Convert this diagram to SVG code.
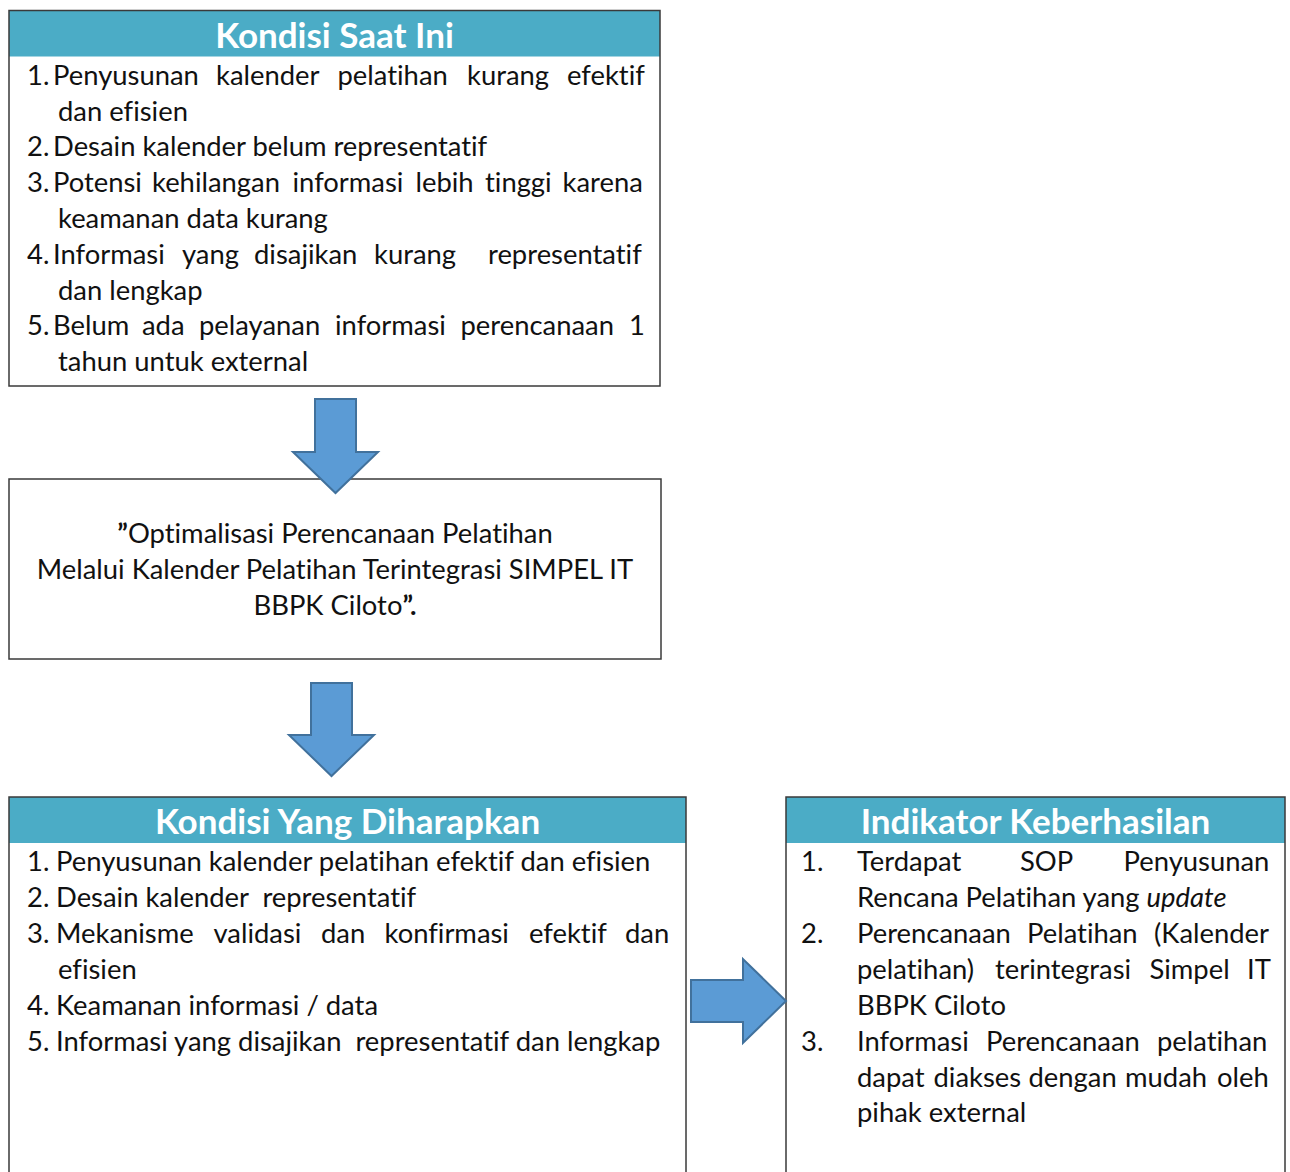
<svg xmlns="http://www.w3.org/2000/svg" width="1290" height="1172" viewBox="0 0 1290 1172">
<style>
.bg{fill:#ffffff}
.hdr{fill:#4BACC6}
.frame{fill:none;stroke:#3a3a3a;stroke-width:1.5}
.t{font-family:Lato,'Open Sans',sans-serif;font-size:27.4px;fill:#111111;font-variant-ligatures:none}
.c{text-anchor:middle}
.ttl{font-family:Lato,'Open Sans',sans-serif;font-weight:bold;font-size:35px;fill:#ffffff;text-anchor:middle}
.arr{fill:#5B9BD5;stroke:#41719C;stroke-width:2;stroke-linejoin:miter}
</style>
<rect class="bg" x="0" y="0" width="1290" height="1172"/>

<g id="kondisi-saat-ini">
  <rect class="hdr" x="9" y="10.5" width="651" height="46"/>
  <rect class="frame" x="9" y="10.5" width="651" height="375.5"/>
  <text class="ttl" x="334.5" y="47.5">Kondisi Saat Ini</text>
  <text class="t" y="85"><tspan x="27">1.</tspan><tspan x="53">Penyusunan</tspan><tspan x="216">kalender</tspan><tspan x="337.5">pelatihan</tspan><tspan x="467">kurang</tspan><tspan x="567">efektif</tspan></text>
  <text class="t" x="58" y="121">dan efisien</text>
  <text class="t" y="156"><tspan x="27">2.</tspan><tspan x="53">Desain kalender belum representatif</tspan></text>
  <text class="t" y="192"><tspan x="27">3.</tspan><tspan x="53">Potensi</tspan><tspan x="152">kehilangan</tspan><tspan x="292.5">informasi</tspan><tspan x="415.5">lebih</tspan><tspan x="485">tinggi</tspan><tspan x="562.5">karena</tspan></text>
  <text class="t" x="58" y="228">keamanan data kurang</text>
  <text class="t" y="264"><tspan x="27">4.</tspan><tspan x="53">Informasi</tspan><tspan x="182">yang</tspan><tspan x="254">disajikan</tspan><tspan x="374">kurang</tspan><tspan x="488">representatif</tspan></text>
  <text class="t" x="58" y="300">dan lengkap</text>
  <text class="t" y="335"><tspan x="27">5.</tspan><tspan x="53">Belum</tspan><tspan x="142">ada</tspan><tspan x="199">pelayanan</tspan><tspan x="335">informasi</tspan><tspan x="460.5">perencanaan</tspan><tspan x="629">1</tspan></text>
  <text class="t" x="58" y="371">tahun untuk external</text>
</g>

<g id="judul">
  <rect class="frame" x="9" y="479" width="652" height="180"/>
  <text class="t c" x="335" y="543"><tspan font-weight="bold">”</tspan>Optimalisasi Perencanaan Pelatihan</text>
  <text class="t c" x="335" y="579">Melalui Kalender Pelatihan Terintegrasi SIMPEL IT</text>
  <text class="t c" x="335" y="615">BBPK Ciloto<tspan font-weight="bold">”.</tspan></text>
</g>

<g id="kondisi-yang-diharapkan">
  <rect class="hdr" x="9" y="797" width="677" height="46"/>
  <rect class="frame" x="9" y="797" width="677" height="390"/>
  <text class="ttl" x="347.5" y="834">Kondisi Yang Diharapkan</text>
  <text class="t" y="871"><tspan x="27">1.</tspan><tspan x="56">Penyusunan kalender pelatihan efektif dan efisien</tspan></text>
  <text class="t" y="907" xml:space="preserve"><tspan x="27">2.</tspan><tspan x="56">Desain kalender  representatif</tspan></text>
  <text class="t" y="943"><tspan x="27">3.</tspan><tspan x="56">Mekanisme</tspan><tspan x="213.5">validasi</tspan><tspan x="321">dan</tspan><tspan x="384.5">konfirmasi</tspan><tspan x="529">efektif</tspan><tspan x="625">dan</tspan></text>
  <text class="t" x="58" y="979">efisien</text>
  <text class="t" y="1015"><tspan x="27">4.</tspan><tspan x="56">Keamanan informasi / data</tspan></text>
  <text class="t" y="1051" xml:space="preserve"><tspan x="27">5.</tspan><tspan x="56">Informasi yang disajikan  representatif dan lengkap</tspan></text>
</g>

<g id="indikator-keberhasilan">
  <rect class="hdr" x="786" y="797" width="499" height="46"/>
  <rect class="frame" x="786" y="797" width="499" height="390"/>
  <text class="ttl" x="1035.5" y="834">Indikator Keberhasilan</text>
  <text class="t" y="871"><tspan x="801">1.</tspan><tspan x="857">Terdapat</tspan><tspan x="1020">SOP</tspan><tspan x="1123.5">Penyusunan</tspan></text>
  <text class="t" x="857" y="907">Rencana Pelatihan yang <tspan font-style="italic">update</tspan></text>
  <text class="t" y="943"><tspan x="801">2.</tspan><tspan x="857">Perencanaan</tspan><tspan x="1027">Pelatihan</tspan><tspan x="1154">(Kalender</tspan></text>
  <text class="t" y="979"><tspan x="857">pelatihan)</tspan><tspan x="995">terintegrasi</tspan><tspan x="1149.5">Simpel</tspan><tspan x="1247">IT</tspan></text>
  <text class="t" x="857" y="1015">BBPK Ciloto</text>
  <text class="t" y="1051"><tspan x="801">3.</tspan><tspan x="857">Informasi</tspan><tspan x="986">Perencanaan</tspan><tspan x="1157">pelatihan</tspan></text>
  <text class="t" y="1087"><tspan x="857">dapat</tspan><tspan x="933.5">diakses</tspan><tspan x="1028.5">dengan</tspan><tspan x="1125">mudah</tspan><tspan x="1217">oleh</tspan></text>
  <text class="t" x="857" y="1122">pihak external</text>
</g>

<g id="connectors">
  <polygon class="arr" points="315,399 356,399 356,452 378,452 335.5,493 293,452 315,452"/>
  <polygon class="arr" points="311,683 352,683 352,735 374,735 331.5,776 289,735 311,735"/>
  <polygon class="arr" points="691,980 743,980 743,959 786,1001 743,1043 743,1022 691,1022"/>
</g>
</svg>
